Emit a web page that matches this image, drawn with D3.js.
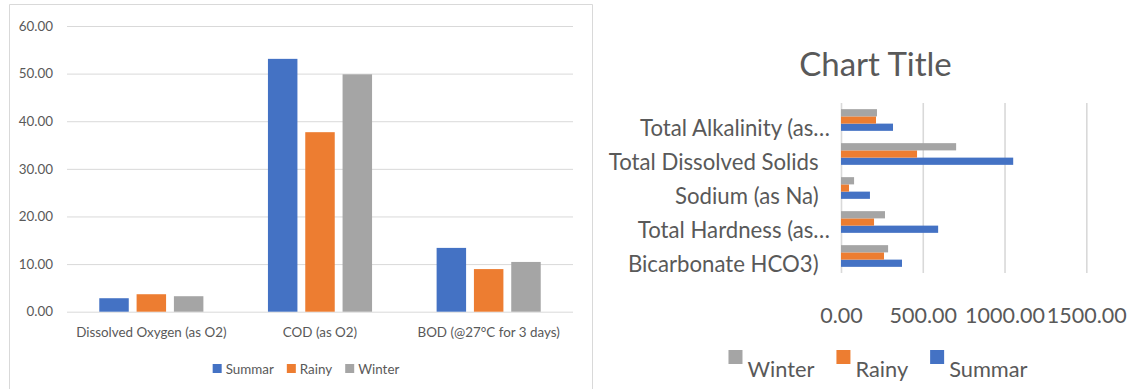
<!DOCTYPE html>
<html>
<head>
<meta charset="utf-8">
<script src="https://cdn.jsdelivr.net/npm/d3@7"></script>
<style>
  html, body { margin: 0; padding: 0; background: #fff; }
  svg { display: block; }
  text { font-family: Lato, "Noto Sans", sans-serif; fill: #595959; }
</style>
</head>
<body>
<svg id="chart" width="1147" height="389"></svg>
<script>
// ---- data ----
const series = ["Summar", "Rainy", "Winter"];
const seriesColors = ["#4472C4", "#ED7D31", "#A5A5A5"];
const colorOf = d3.scaleOrdinal().domain(series).range(seriesColors);

// left panel: oxygen demand parameters
const paramsLeft = ["Dissolved Oxygen (as O2)", "COD (as O2)", "BOD (@27°C for 3 days)"];
const summarLeft = [2.83, 53.1, 13.4];
const rainyLeft  = [3.67, 37.7, 8.95];
const winterLeft = [3.25, 49.85, 10.45];
const ticksLeft = [0, 10, 20, 30, 40, 50, 60];

// right panel: mineral parameters (top to bottom)
const paramsRight = ["Total Alkalinity (as…", "Total Dissolved Solids  ", "Sodium (as Na)  ", "Total Hardness (as…", "Bicarbonate HCO3)  "];
const summarRight = [318, 1053, 177, 594, 373];
const rainyRight  = [214, 465, 49, 202, 263];
const winterRight = [220, 704, 80, 269, 288];
const ticksRight = [0, 500, 1000, 1500];
const titleRight = "Chart Title";

const fmt = d3.format(".2f");
const grid = "#d9d9d9";
const svg = d3.select("#chart");

// ---- frames ----
svg.append("path")
  .attr("d", "M9.5,389 V4.5 H592.5 V389")
  .attr("fill", "none").attr("stroke", grid).attr("stroke-width", 1);

// legend: colour box + name, laid out in a centred row
function legend(g, order, centerX, y, box, gapText, gapItem, size, boxDy) {
  const items = g.selectAll("g").data(order).enter().append("g");
  items.append("rect").attr("width", box).attr("height", box)
    .attr("y", y + boxDy).attr("fill", d => colorOf(d));
  items.append("text").text(d => d).attr("x", box + gapText)
    .attr("y", y).style("font-size", size + "px");
  let x = 0;
  const xs = [];
  items.each(function () {
    xs.push(x);
    x += box + gapText + d3.select(this).select("text").node().getComputedTextLength() + gapItem;
  });
  const total = x - gapItem;
  items.attr("transform", (d, i) => `translate(${centerX - total / 2 + xs[i]},0)`);
}

// ================= left: clustered columns =================
const L = { left: 67, right: 573, top: 26, bottom: 311.7 };
const yL = d3.scaleLinear().domain([0, 60]).range([L.bottom, L.top]);
const xL0 = d3.scaleBand().domain(paramsLeft).range([L.left, L.right]);
const xL1 = d3.scaleBand().domain(series).range([0, xL0.bandwidth()])
  .paddingInner(0.21).paddingOuter(0.865);

const gLy = svg.append("g").attr("transform", `translate(${L.left},0)`)
  .call(d3.axisLeft(yL).tickValues(ticksLeft).tickFormat(fmt)
    .tickSize(-(L.right - L.left)).tickPadding(14));
gLy.select(".domain").remove();
gLy.selectAll(".tick line").attr("stroke", grid);
gLy.selectAll(".tick text").style("font-size", "13.4px").attr("fill", "#595959");

const leftRows = paramsLeft.map((p, i) => ({
  param: p, values: { Summar: summarLeft[i], Rainy: rainyLeft[i], Winter: winterLeft[i] }
}));
const gLb = svg.append("g");
leftRows.forEach(row => {
  gLb.selectAll(null).data(series).enter().append("rect")
    .attr("x", s => xL0(row.param) + xL1(s))
    .attr("width", xL1.bandwidth())
    .attr("y", s => yL(row.values[s]))
    .attr("height", s => yL(0) - yL(row.values[s]))
    .attr("fill", s => colorOf(s));
});

const gLx = svg.append("g").attr("transform", `translate(0,${L.bottom})`)
  .call(d3.axisBottom(xL0).tickSize(0).tickPadding(16));
gLx.select(".domain").remove();
gLx.selectAll(".tick text").style("font-size", "13.4px").attr("fill", "#595959");

legend(svg.append("g"), series, 306, 374, 9, 4, 13, 13.4, -10);

// ================= right: clustered bars =================
svg.append("text").text(titleRight)
  .attr("x", 875.5).attr("y", 76).attr("text-anchor", "middle")
  .style("font-size", "33px");

const R = { left: 841, right: 1086.3, top: 103, bottom: 273 };
const xR = d3.scaleLinear().domain([0, 1500]).range([R.left, R.right]);
const yR0 = d3.scaleBand().domain(paramsRight).range([R.top, R.bottom]);
const barOrder = ["Winter", "Rainy", "Summar"];
const yR1 = d3.scaleBand().domain(barOrder).range([0, yR0.bandwidth()])
  .paddingInner(0).paddingOuter(0.85);

const gRx = svg.append("g").attr("transform", `translate(0,${R.bottom})`)
  .call(d3.axisBottom(xR).tickValues(ticksRight).tickFormat(fmt)
    .tickSize(-(R.bottom - R.top)).tickPadding(35));
gRx.select(".domain").remove();
gRx.selectAll(".tick line").attr("stroke", grid).attr("stroke-width", 1.6);
gRx.selectAll(".tick text").style("font-size", "21.5px").attr("fill", "#595959");

const rightRows = paramsRight.map((p, i) => ({
  param: p, values: { Summar: summarRight[i], Rainy: rainyRight[i], Winter: winterRight[i] }
}));
const gRb = svg.append("g");
rightRows.forEach(row => {
  gRb.selectAll(null).data(series).enter().append("rect")
    .attr("x", xR(0))
    .attr("width", s => xR(row.values[s]) - xR(0))
    .attr("y", s => yR0(row.param) + yR1(s))
    .attr("height", yR1.bandwidth())
    .attr("fill", s => colorOf(s));
});

svg.append("g").selectAll("text").data(paramsRight).enter().append("text")
  .text(d => d)
  .attr("x", 830)
  .attr("y", d => yR0(d) + yR0.bandwidth() / 2 + 16)
  .attr("text-anchor", "end")
  .style("white-space", "pre")
  .style("font-size", "22.2px");

// bar-panel legend runs Winter, Rainy, Summar
legend(svg.append("g"), barOrder, 878, 377, 14, 5, 22, 21.8, -27);
</script>
</body>
</html>
